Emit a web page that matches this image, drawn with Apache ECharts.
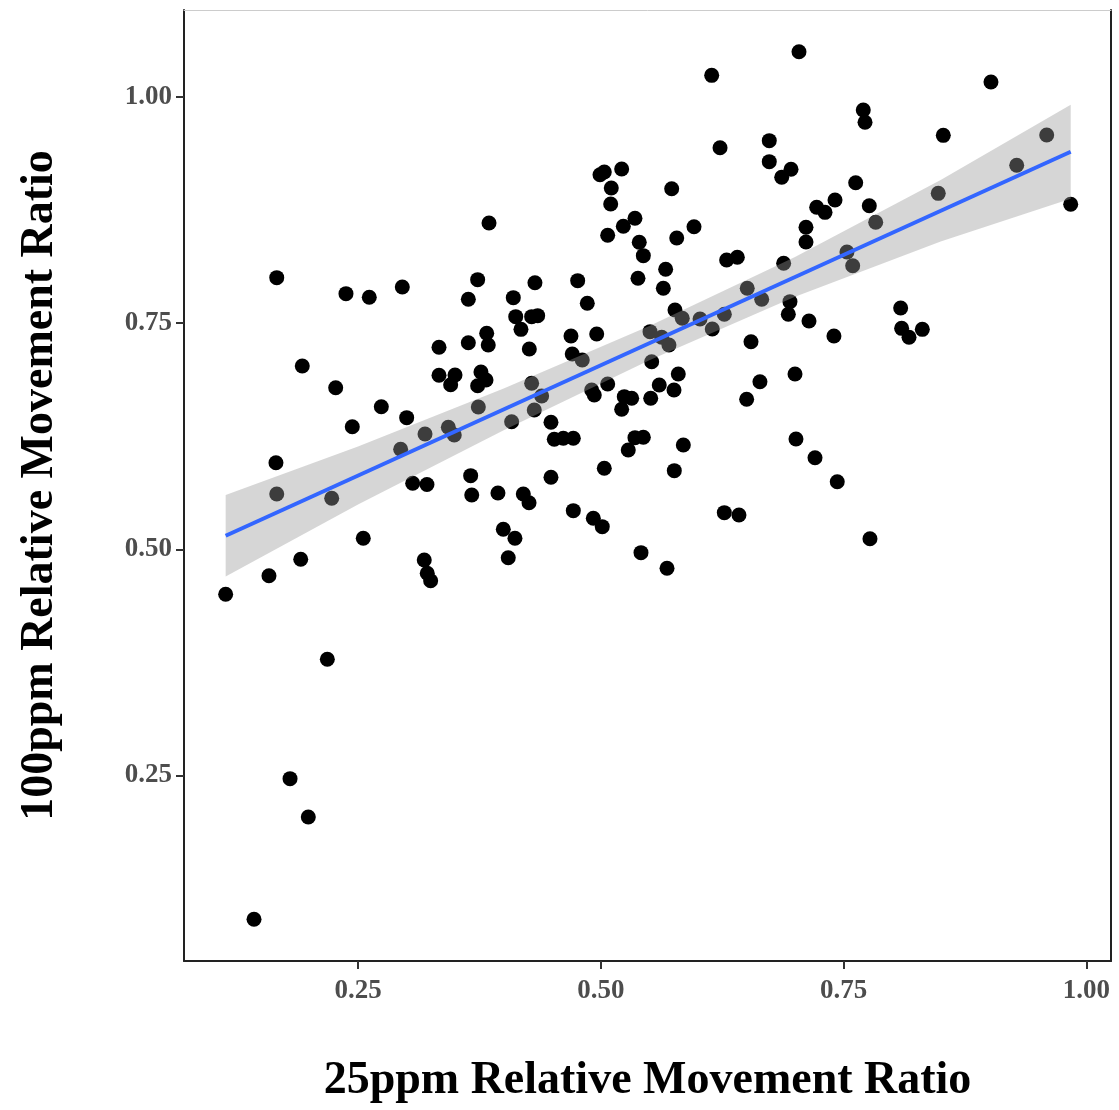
<!DOCTYPE html>
<html>
<head>
<meta charset="utf-8">
<script src="https://cdn.jsdelivr.net/npm/echarts@6/dist/echarts.min.js"></script>
<style>
  html, body { margin: 0; padding: 0; background: #fff; }
  #chart { width: 1119px; height: 1110px; }
</style>
</head>
<body>
<div id="chart"></div>
<script>
// 25ppm vs 100ppm relative movement ratio, with a linear fit and its 95% band.

// points
const ratio25 = [
  0.3849, 0.7041, 0.6142, 0.6228, 0.6735, 0.6735, 0.6959, 0.6863, 0.4992, 0.5036,
  0.5215, 0.5108, 0.5102, 0.5730, 0.5352, 0.5232, 0.5071, 0.5396, 0.5782, 0.5960,
  0.7113, 0.7113, 0.9018, 0.7703, 0.7721, 0.8527, 0.9592, 0.9283, 0.8475, 0.9839,
  0.7625, 0.7412, 0.7223, 0.7309, 0.7765, 0.7831, 0.7535, 0.7594, 0.1663, 0.2376,
  0.2616, 0.2956, 0.3732, 0.3636, 0.3825, 0.3841, 0.3636, 0.3334, 0.1926, 0.3334,
  0.3499, 0.3454, 0.3766, 0.3818, 0.3732, 0.2270, 0.3739, 0.2740, 0.3001, 0.2441,
  0.3190, 0.3430, 0.3491, 0.2939, 0.1655, 0.1663, 0.3063, 0.3210, 0.3660, 0.3671,
  0.3941, 0.5438, 0.5668, 0.5383, 0.5644, 0.4322, 0.4762, 0.4099, 0.4861, 0.4124,
  0.4288, 0.4350, 0.4178, 0.4693, 0.4958, 0.4264, 0.4706, 0.4809, 0.6296, 0.6406,
  0.6883, 0.5764, 0.5839, 0.6022, 0.6272, 0.6508, 0.6657, 0.6948, 0.6931, 0.7144,
  0.5507, 0.5627, 0.5702, 0.6148, 0.6547, 0.5524, 0.5798, 0.7000, 0.4288, 0.6639,
  0.5071, 0.5602, 0.5754, 0.4906, 0.4933, 0.4391, 0.4315, 0.4082, 0.5242, 0.5318,
  0.5215, 0.5514, 0.6502, 0.4487, 0.4521, 0.4614, 0.4717, 0.5352, 0.5438, 0.5283,
  0.5850, 0.7010, 0.5036, 0.5757, 0.4487, 0.4202, 0.4261, 0.8088, 0.8098, 0.8174,
  0.8311, 0.7401, 0.7206, 0.7435, 0.2229, 0.2554, 0.1910, 0.1583, 0.1137, 0.3182,
  0.3213, 0.3248, 0.2184, 0.4717, 0.4923, 0.5015, 0.3996, 0.4116, 0.4047, 0.5414,
  0.5682, 0.6272, 0.6423, 0.7772, 0.1800, 0.1988, 0.1429
];
const ratio100 = [
  0.8606, 1.0499, 1.0238, 0.9438, 0.9516, 0.9284, 0.9200, 0.9111, 0.9140, 0.9170,
  0.9203, 0.8993, 0.8816, 0.8985, 0.8658, 0.8570, 0.8470, 0.8393, 0.8440, 0.8565,
  0.8559, 0.8396, 1.0164, 0.9855, 0.9719, 0.9575, 0.9579, 0.9244, 0.8934, 0.8813,
  0.9051, 0.8860, 0.8780, 0.8724, 0.8797, 0.8614, 0.8286, 0.8134, 0.8002, 0.7825,
  0.7785, 0.7899, 0.7980, 0.7763, 0.7387, 0.7258, 0.7283, 0.7233, 0.7026, 0.6923,
  0.6926, 0.6819, 0.6960, 0.6871, 0.6808, 0.6786, 0.6573, 0.6576, 0.6455, 0.6355,
  0.6274, 0.6348, 0.6263, 0.6105, 0.5957, 0.5611, 0.5730, 0.5716, 0.5814, 0.5600,
  0.5622, 0.8245, 0.8095, 0.7995, 0.7885, 0.7946, 0.7969, 0.7781, 0.7719, 0.7571,
  0.7571, 0.7582, 0.7431, 0.7357, 0.7380, 0.7214, 0.7158, 0.7092, 0.8197, 0.8227,
  0.8161, 0.7645, 0.7553, 0.7545, 0.7597, 0.7885, 0.7763, 0.7737, 0.7597, 0.7523,
  0.7405, 0.7343, 0.7258, 0.7435, 0.7294, 0.7073, 0.6937, 0.6937, 0.6835, 0.6852,
  0.6827, 0.6816, 0.6761, 0.6761, 0.6705, 0.6694, 0.6540, 0.6410, 0.6687, 0.6669,
  0.6547, 0.6669, 0.6658, 0.6404, 0.6216, 0.6227, 0.6227, 0.6234, 0.6238, 0.6098,
  0.6153, 0.6219, 0.5895, 0.5869, 0.5796, 0.5611, 0.5515, 0.7667, 0.7442, 0.7343,
  0.7431, 0.7357, 0.6012, 0.5747, 0.5564, 0.5122, 0.4890, 0.4708, 0.4503, 0.4882,
  0.4735, 0.4653, 0.3785, 0.5427, 0.5343, 0.5250, 0.5221, 0.5122, 0.4907, 0.4963,
  0.4790, 0.5405, 0.5379, 0.5117, 0.2465, 0.2042, 0.0911
];

// fitted line ends and confidence band, also
const fitX = [0.1137, 0.9839];
const fitY = [0.5150, 0.9394];
const bandX = [0.1137, 0.25, 0.40, 0.55, 0.70, 0.85, 0.9839];
const bandLo = [0.470, 0.5495, 0.6316, 0.7088, 0.779, 0.8401, 0.8874];
const bandHi = [0.560, 0.6135, 0.6776, 0.7468, 0.823, 0.9081, 0.9914];

const tickX = [0.25, 0.5, 0.75, 1.0];
const tickY = [0.25, 0.5, 0.75, 1.0];

const FONT = "Liberation Serif";
const chart = echarts.init(document.getElementById("chart"));

const labelStyle = {
  fontFamily: FONT, fontWeight: "bold", fontSize: 27, color: "#4d4d4d",
  formatter: (v) => (+v).toFixed(2),
};
const titleStyle = { fontFamily: FONT, fontWeight: "bold", fontSize: 46, color: "#000" };

chart.setOption({
  animation: false,
  grid: { left: 184, top: 10, width: 927, height: 951 },
  xAxis: [
    {
      type: "value", min: 0.0708, max: 1.0254, position: "bottom",
      name: "25ppm Relative Movement Ratio", nameLocation: "middle", nameGap: 97,
      nameTextStyle: titleStyle,
      axisLine: { lineStyle: { color: "#222", width: 2 } },
      axisTick: { length: 8, lineStyle: { color: "#333", width: 2 }, customValues: tickX },
      axisLabel: Object.assign({ margin: 17, customValues: tickX }, labelStyle),
      splitLine: { show: false },
    },
    {
      type: "value", min: 0, max: 1, position: "top",
      axisLine: { show: true, lineStyle: { color: "#cccccc", width: 1 } },
      axisTick: { show: false }, axisLabel: { show: false }, splitLine: { show: false },
    },
  ],
  yAxis: [
    {
      type: "value", min: 0.045, max: 1.096, position: "left",
      name: "100ppm Relative Movement Ratio", nameLocation: "middle", nameGap: 121,
      nameTextStyle: titleStyle,
      axisLine: { show: true, lineStyle: { color: "#222", width: 2 } },
      axisTick: { show: true, length: 8, lineStyle: { color: "#333", width: 2 }, customValues: tickY },
      axisLabel: Object.assign({ margin: 12, customValues: tickY }, labelStyle),
      splitLine: { show: false },
    },
    {
      type: "value", min: 0, max: 1, position: "right",
      axisLine: { show: true, lineStyle: { color: "#222", width: 2 } },
      axisTick: { show: false }, axisLabel: { show: false }, splitLine: { show: false },
    },
  ],
  series: [
    {
      name: "points", type: "scatter", z: 1, symbolSize: 15,
      itemStyle: { color: "#000", opacity: 1 },
      data: ratio25.map((x, i) => [x, ratio100[i]]),
    },
    {
      // grey ribbon drawn over the points, as ggplot does
      name: "band", type: "custom", z: 2, silent: true,
      data: bandX.map((x, i) => [x, bandLo[i], bandHi[i]]),
      renderItem: (params, api) => {
        if (params.dataIndex !== 0) return null;
        const top = bandX.map((x, i) => api.coord([x, bandHi[i]]));
        const bot = bandX.map((x, i) => api.coord([x, bandLo[i]])).reverse();
        return {
          type: "polygon",
          shape: { points: top.concat(bot) },
          style: { fill: "#999999", opacity: 0.4 },
        };
      },
    },
    {
      name: "fit", type: "line", z: 3, symbol: "none", silent: true,
      lineStyle: { color: "#3366FF", width: 4 },
      data: fitX.map((x, i) => [x, fitY[i]]),
    },
  ],
});
</script>
</body>
</html>
